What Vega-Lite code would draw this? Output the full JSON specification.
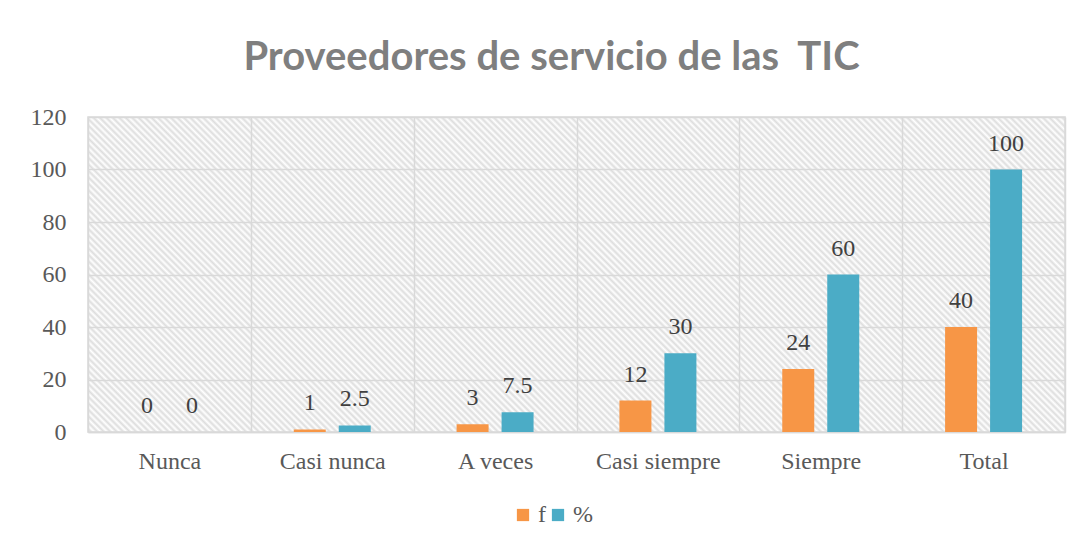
{
  "$schema": "https://vega.github.io/schema/vega-lite/v6.json",
  "width": 977,
  "height": 315,
  "autosize": {"type": "none"},
  "padding": {"left": 88, "top": 117, "right": 17, "bottom": 112},
  "background": "#ffffff",
  "title": {
    "text": "Proveedores de servicio de las \u00a0TIC",
    "font": "Lato",
    "fontWeight": "bold",
    "fontSize": 40,
    "color": "#7f7f7f",
    "anchor": "middle",
    "frame": "group",
    "baseline": "alphabetic",
    "offset": 48,
    "dy": 53,
    "dx": -25
  },
  "view": {
    "stroke": "#d9d9d9",
    "strokeWidth": 1.5,
    "fill": {
      "gradient": "linear",
      "x1": 0, "y1": 1, "x2": 1.1979, "y2": 0.6138,
      "stops": [
{"offset":0,"color":"#fff"},{"offset":0.0025,"color":"#ddd"},{"offset":0.005,"color":"#fff"},{"offset":0.0075,"color":"#ddd"},
{"offset":0.01,"color":"#fff"},{"offset":0.0125,"color":"#ddd"},{"offset":0.015,"color":"#fff"},{"offset":0.0175,"color":"#ddd"},
{"offset":0.02,"color":"#fff"},{"offset":0.0225,"color":"#ddd"},{"offset":0.025,"color":"#fff"},{"offset":0.0275,"color":"#ddd"},
{"offset":0.03,"color":"#fff"},{"offset":0.0325,"color":"#ddd"},{"offset":0.035,"color":"#fff"},{"offset":0.0375,"color":"#ddd"},
{"offset":0.04,"color":"#fff"},{"offset":0.0425,"color":"#ddd"},{"offset":0.045,"color":"#fff"},{"offset":0.0475,"color":"#ddd"},
{"offset":0.05,"color":"#fff"},{"offset":0.0525,"color":"#ddd"},{"offset":0.055,"color":"#fff"},{"offset":0.0575,"color":"#ddd"},
{"offset":0.06,"color":"#fff"},{"offset":0.0625,"color":"#ddd"},{"offset":0.065,"color":"#fff"},{"offset":0.0675,"color":"#ddd"},
{"offset":0.07,"color":"#fff"},{"offset":0.0725,"color":"#ddd"},{"offset":0.075,"color":"#fff"},{"offset":0.0775,"color":"#ddd"},
{"offset":0.08,"color":"#fff"},{"offset":0.0825,"color":"#ddd"},{"offset":0.085,"color":"#fff"},{"offset":0.0875,"color":"#ddd"},
{"offset":0.09,"color":"#fff"},{"offset":0.0925,"color":"#ddd"},{"offset":0.095,"color":"#fff"},{"offset":0.0975,"color":"#ddd"},
{"offset":0.1,"color":"#fff"},{"offset":0.1025,"color":"#ddd"},{"offset":0.105,"color":"#fff"},{"offset":0.1075,"color":"#ddd"},
{"offset":0.11,"color":"#fff"},{"offset":0.1125,"color":"#ddd"},{"offset":0.115,"color":"#fff"},{"offset":0.1175,"color":"#ddd"},
{"offset":0.12,"color":"#fff"},{"offset":0.1225,"color":"#ddd"},{"offset":0.125,"color":"#fff"},{"offset":0.1275,"color":"#ddd"},
{"offset":0.13,"color":"#fff"},{"offset":0.1325,"color":"#ddd"},{"offset":0.135,"color":"#fff"},{"offset":0.1375,"color":"#ddd"},
{"offset":0.14,"color":"#fff"},{"offset":0.1425,"color":"#ddd"},{"offset":0.145,"color":"#fff"},{"offset":0.1475,"color":"#ddd"},
{"offset":0.15,"color":"#fff"},{"offset":0.1525,"color":"#ddd"},{"offset":0.155,"color":"#fff"},{"offset":0.1575,"color":"#ddd"},
{"offset":0.16,"color":"#fff"},{"offset":0.1625,"color":"#ddd"},{"offset":0.165,"color":"#fff"},{"offset":0.1675,"color":"#ddd"},
{"offset":0.17,"color":"#fff"},{"offset":0.1725,"color":"#ddd"},{"offset":0.175,"color":"#fff"},{"offset":0.1775,"color":"#ddd"},
{"offset":0.18,"color":"#fff"},{"offset":0.1825,"color":"#ddd"},{"offset":0.185,"color":"#fff"},{"offset":0.1875,"color":"#ddd"},
{"offset":0.19,"color":"#fff"},{"offset":0.1925,"color":"#ddd"},{"offset":0.195,"color":"#fff"},{"offset":0.1975,"color":"#ddd"},
{"offset":0.2,"color":"#fff"},{"offset":0.2025,"color":"#ddd"},{"offset":0.205,"color":"#fff"},{"offset":0.2075,"color":"#ddd"},
{"offset":0.21,"color":"#fff"},{"offset":0.2125,"color":"#ddd"},{"offset":0.215,"color":"#fff"},{"offset":0.2175,"color":"#ddd"},
{"offset":0.22,"color":"#fff"},{"offset":0.2225,"color":"#ddd"},{"offset":0.225,"color":"#fff"},{"offset":0.2275,"color":"#ddd"},
{"offset":0.23,"color":"#fff"},{"offset":0.2325,"color":"#ddd"},{"offset":0.235,"color":"#fff"},{"offset":0.2375,"color":"#ddd"},
{"offset":0.24,"color":"#fff"},{"offset":0.2425,"color":"#ddd"},{"offset":0.245,"color":"#fff"},{"offset":0.2475,"color":"#ddd"},
{"offset":0.25,"color":"#fff"},{"offset":0.2525,"color":"#ddd"},{"offset":0.255,"color":"#fff"},{"offset":0.2575,"color":"#ddd"},
{"offset":0.26,"color":"#fff"},{"offset":0.2625,"color":"#ddd"},{"offset":0.265,"color":"#fff"},{"offset":0.2675,"color":"#ddd"},
{"offset":0.27,"color":"#fff"},{"offset":0.2725,"color":"#ddd"},{"offset":0.275,"color":"#fff"},{"offset":0.2775,"color":"#ddd"},
{"offset":0.28,"color":"#fff"},{"offset":0.2825,"color":"#ddd"},{"offset":0.285,"color":"#fff"},{"offset":0.2875,"color":"#ddd"},
{"offset":0.29,"color":"#fff"},{"offset":0.2925,"color":"#ddd"},{"offset":0.295,"color":"#fff"},{"offset":0.2975,"color":"#ddd"},
{"offset":0.3,"color":"#fff"},{"offset":0.3025,"color":"#ddd"},{"offset":0.305,"color":"#fff"},{"offset":0.3075,"color":"#ddd"},
{"offset":0.31,"color":"#fff"},{"offset":0.3125,"color":"#ddd"},{"offset":0.315,"color":"#fff"},{"offset":0.3175,"color":"#ddd"},
{"offset":0.32,"color":"#fff"},{"offset":0.3225,"color":"#ddd"},{"offset":0.325,"color":"#fff"},{"offset":0.3275,"color":"#ddd"},
{"offset":0.33,"color":"#fff"},{"offset":0.3325,"color":"#ddd"},{"offset":0.335,"color":"#fff"},{"offset":0.3375,"color":"#ddd"},
{"offset":0.34,"color":"#fff"},{"offset":0.3425,"color":"#ddd"},{"offset":0.345,"color":"#fff"},{"offset":0.3475,"color":"#ddd"},
{"offset":0.35,"color":"#fff"},{"offset":0.3525,"color":"#ddd"},{"offset":0.355,"color":"#fff"},{"offset":0.3575,"color":"#ddd"},
{"offset":0.36,"color":"#fff"},{"offset":0.3625,"color":"#ddd"},{"offset":0.365,"color":"#fff"},{"offset":0.3675,"color":"#ddd"},
{"offset":0.37,"color":"#fff"},{"offset":0.3725,"color":"#ddd"},{"offset":0.375,"color":"#fff"},{"offset":0.3775,"color":"#ddd"},
{"offset":0.38,"color":"#fff"},{"offset":0.3825,"color":"#ddd"},{"offset":0.385,"color":"#fff"},{"offset":0.3875,"color":"#ddd"},
{"offset":0.39,"color":"#fff"},{"offset":0.3925,"color":"#ddd"},{"offset":0.395,"color":"#fff"},{"offset":0.3975,"color":"#ddd"},
{"offset":0.4,"color":"#fff"},{"offset":0.4025,"color":"#ddd"},{"offset":0.405,"color":"#fff"},{"offset":0.4075,"color":"#ddd"},
{"offset":0.41,"color":"#fff"},{"offset":0.4125,"color":"#ddd"},{"offset":0.415,"color":"#fff"},{"offset":0.4175,"color":"#ddd"},
{"offset":0.42,"color":"#fff"},{"offset":0.4225,"color":"#ddd"},{"offset":0.425,"color":"#fff"},{"offset":0.4275,"color":"#ddd"},
{"offset":0.43,"color":"#fff"},{"offset":0.4325,"color":"#ddd"},{"offset":0.435,"color":"#fff"},{"offset":0.4375,"color":"#ddd"},
{"offset":0.44,"color":"#fff"},{"offset":0.4425,"color":"#ddd"},{"offset":0.445,"color":"#fff"},{"offset":0.4475,"color":"#ddd"},
{"offset":0.45,"color":"#fff"},{"offset":0.4525,"color":"#ddd"},{"offset":0.455,"color":"#fff"},{"offset":0.4575,"color":"#ddd"},
{"offset":0.46,"color":"#fff"},{"offset":0.4625,"color":"#ddd"},{"offset":0.465,"color":"#fff"},{"offset":0.4675,"color":"#ddd"},
{"offset":0.47,"color":"#fff"},{"offset":0.4725,"color":"#ddd"},{"offset":0.475,"color":"#fff"},{"offset":0.4775,"color":"#ddd"},
{"offset":0.48,"color":"#fff"},{"offset":0.4825,"color":"#ddd"},{"offset":0.485,"color":"#fff"},{"offset":0.4875,"color":"#ddd"},
{"offset":0.49,"color":"#fff"},{"offset":0.4925,"color":"#ddd"},{"offset":0.495,"color":"#fff"},{"offset":0.4975,"color":"#ddd"},
{"offset":0.5,"color":"#fff"},{"offset":0.5025,"color":"#ddd"},{"offset":0.505,"color":"#fff"},{"offset":0.5075,"color":"#ddd"},
{"offset":0.51,"color":"#fff"},{"offset":0.5125,"color":"#ddd"},{"offset":0.515,"color":"#fff"},{"offset":0.5175,"color":"#ddd"},
{"offset":0.52,"color":"#fff"},{"offset":0.5225,"color":"#ddd"},{"offset":0.525,"color":"#fff"},{"offset":0.5275,"color":"#ddd"},
{"offset":0.53,"color":"#fff"},{"offset":0.5325,"color":"#ddd"},{"offset":0.535,"color":"#fff"},{"offset":0.5375,"color":"#ddd"},
{"offset":0.54,"color":"#fff"},{"offset":0.5425,"color":"#ddd"},{"offset":0.545,"color":"#fff"},{"offset":0.5475,"color":"#ddd"},
{"offset":0.55,"color":"#fff"},{"offset":0.5525,"color":"#ddd"},{"offset":0.555,"color":"#fff"},{"offset":0.5575,"color":"#ddd"},
{"offset":0.56,"color":"#fff"},{"offset":0.5625,"color":"#ddd"},{"offset":0.565,"color":"#fff"},{"offset":0.5675,"color":"#ddd"},
{"offset":0.57,"color":"#fff"},{"offset":0.5725,"color":"#ddd"},{"offset":0.575,"color":"#fff"},{"offset":0.5775,"color":"#ddd"},
{"offset":0.58,"color":"#fff"},{"offset":0.5825,"color":"#ddd"},{"offset":0.585,"color":"#fff"},{"offset":0.5875,"color":"#ddd"},
{"offset":0.59,"color":"#fff"},{"offset":0.5925,"color":"#ddd"},{"offset":0.595,"color":"#fff"},{"offset":0.5975,"color":"#ddd"},
{"offset":0.6,"color":"#fff"},{"offset":0.6025,"color":"#ddd"},{"offset":0.605,"color":"#fff"},{"offset":0.6075,"color":"#ddd"},
{"offset":0.61,"color":"#fff"},{"offset":0.6125,"color":"#ddd"},{"offset":0.615,"color":"#fff"},{"offset":0.6175,"color":"#ddd"},
{"offset":0.62,"color":"#fff"},{"offset":0.6225,"color":"#ddd"},{"offset":0.625,"color":"#fff"},{"offset":0.6275,"color":"#ddd"},
{"offset":0.63,"color":"#fff"},{"offset":0.6325,"color":"#ddd"},{"offset":0.635,"color":"#fff"},{"offset":0.6375,"color":"#ddd"},
{"offset":0.64,"color":"#fff"},{"offset":0.6425,"color":"#ddd"},{"offset":0.645,"color":"#fff"},{"offset":0.6475,"color":"#ddd"},
{"offset":0.65,"color":"#fff"},{"offset":0.6525,"color":"#ddd"},{"offset":0.655,"color":"#fff"},{"offset":0.6575,"color":"#ddd"},
{"offset":0.66,"color":"#fff"},{"offset":0.6625,"color":"#ddd"},{"offset":0.665,"color":"#fff"},{"offset":0.6675,"color":"#ddd"},
{"offset":0.67,"color":"#fff"},{"offset":0.6725,"color":"#ddd"},{"offset":0.675,"color":"#fff"},{"offset":0.6775,"color":"#ddd"},
{"offset":0.68,"color":"#fff"},{"offset":0.6825,"color":"#ddd"},{"offset":0.685,"color":"#fff"},{"offset":0.6875,"color":"#ddd"},
{"offset":0.69,"color":"#fff"},{"offset":0.6925,"color":"#ddd"},{"offset":0.695,"color":"#fff"},{"offset":0.6975,"color":"#ddd"},
{"offset":0.7,"color":"#fff"},{"offset":0.7025,"color":"#ddd"},{"offset":0.705,"color":"#fff"},{"offset":0.7075,"color":"#ddd"},
{"offset":0.71,"color":"#fff"},{"offset":0.7125,"color":"#ddd"},{"offset":0.715,"color":"#fff"},{"offset":0.7175,"color":"#ddd"},
{"offset":0.72,"color":"#fff"},{"offset":0.7225,"color":"#ddd"},{"offset":0.725,"color":"#fff"},{"offset":0.7275,"color":"#ddd"},
{"offset":0.73,"color":"#fff"},{"offset":0.7325,"color":"#ddd"},{"offset":0.735,"color":"#fff"},{"offset":0.7375,"color":"#ddd"},
{"offset":0.74,"color":"#fff"},{"offset":0.7425,"color":"#ddd"},{"offset":0.745,"color":"#fff"},{"offset":0.7475,"color":"#ddd"},
{"offset":0.75,"color":"#fff"},{"offset":0.7525,"color":"#ddd"},{"offset":0.755,"color":"#fff"},{"offset":0.7575,"color":"#ddd"},
{"offset":0.76,"color":"#fff"},{"offset":0.7625,"color":"#ddd"},{"offset":0.765,"color":"#fff"},{"offset":0.7675,"color":"#ddd"},
{"offset":0.77,"color":"#fff"},{"offset":0.7725,"color":"#ddd"},{"offset":0.775,"color":"#fff"},{"offset":0.7775,"color":"#ddd"},
{"offset":0.78,"color":"#fff"},{"offset":0.7825,"color":"#ddd"},{"offset":0.785,"color":"#fff"},{"offset":0.7875,"color":"#ddd"},
{"offset":0.79,"color":"#fff"},{"offset":0.7925,"color":"#ddd"},{"offset":0.795,"color":"#fff"},{"offset":0.7975,"color":"#ddd"},
{"offset":0.8,"color":"#fff"},{"offset":0.8025,"color":"#ddd"},{"offset":0.805,"color":"#fff"},{"offset":0.8075,"color":"#ddd"},
{"offset":0.81,"color":"#fff"},{"offset":0.8125,"color":"#ddd"},{"offset":0.815,"color":"#fff"},{"offset":0.8175,"color":"#ddd"},
{"offset":0.82,"color":"#fff"},{"offset":0.8225,"color":"#ddd"},{"offset":0.825,"color":"#fff"},{"offset":0.8275,"color":"#ddd"},
{"offset":0.83,"color":"#fff"},{"offset":0.8325,"color":"#ddd"},{"offset":0.835,"color":"#fff"},{"offset":0.8375,"color":"#ddd"},
{"offset":0.84,"color":"#fff"},{"offset":0.8425,"color":"#ddd"},{"offset":0.845,"color":"#fff"},{"offset":0.8475,"color":"#ddd"},
{"offset":0.85,"color":"#fff"},{"offset":0.8525,"color":"#ddd"},{"offset":0.855,"color":"#fff"},{"offset":0.8575,"color":"#ddd"},
{"offset":0.86,"color":"#fff"},{"offset":0.8625,"color":"#ddd"},{"offset":0.865,"color":"#fff"},{"offset":0.8675,"color":"#ddd"},
{"offset":0.87,"color":"#fff"},{"offset":0.8725,"color":"#ddd"},{"offset":0.875,"color":"#fff"},{"offset":0.8775,"color":"#ddd"},
{"offset":0.88,"color":"#fff"},{"offset":0.8825,"color":"#ddd"},{"offset":0.885,"color":"#fff"},{"offset":0.8875,"color":"#ddd"},
{"offset":0.89,"color":"#fff"},{"offset":0.8925,"color":"#ddd"},{"offset":0.895,"color":"#fff"},{"offset":0.8975,"color":"#ddd"},
{"offset":0.9,"color":"#fff"},{"offset":0.9025,"color":"#ddd"},{"offset":0.905,"color":"#fff"},{"offset":0.9075,"color":"#ddd"},
{"offset":0.91,"color":"#fff"},{"offset":0.9125,"color":"#ddd"},{"offset":0.915,"color":"#fff"},{"offset":0.9175,"color":"#ddd"},
{"offset":0.92,"color":"#fff"},{"offset":0.9225,"color":"#ddd"},{"offset":0.925,"color":"#fff"},{"offset":0.9275,"color":"#ddd"},
{"offset":0.93,"color":"#fff"},{"offset":0.9325,"color":"#ddd"},{"offset":0.935,"color":"#fff"},{"offset":0.9375,"color":"#ddd"},
{"offset":0.94,"color":"#fff"},{"offset":0.9425,"color":"#ddd"},{"offset":0.945,"color":"#fff"},{"offset":0.9475,"color":"#ddd"},
{"offset":0.95,"color":"#fff"},{"offset":0.9525,"color":"#ddd"},{"offset":0.955,"color":"#fff"},{"offset":0.9575,"color":"#ddd"},
{"offset":0.96,"color":"#fff"},{"offset":0.9625,"color":"#ddd"},{"offset":0.965,"color":"#fff"},{"offset":0.9675,"color":"#ddd"},
{"offset":0.97,"color":"#fff"},{"offset":0.9725,"color":"#ddd"},{"offset":0.975,"color":"#fff"},{"offset":0.9775,"color":"#ddd"},
{"offset":0.98,"color":"#fff"},{"offset":0.9825,"color":"#ddd"},{"offset":0.985,"color":"#fff"},{"offset":0.9875,"color":"#ddd"},
{"offset":0.99,"color":"#fff"},{"offset":0.9925,"color":"#ddd"},{"offset":0.995,"color":"#fff"},{"offset":0.9975,"color":"#ddd"},
{"offset":1,"color":"#fff"}
      ]
    }
  },
  "data": {
    "values": [
      {"categoria": "Nunca", "serie": "f", "valor": 0},
      {"categoria": "Nunca", "serie": "%", "valor": 0},
      {"categoria": "Casi nunca", "serie": "f", "valor": 1},
      {"categoria": "Casi nunca", "serie": "%", "valor": 2.5},
      {"categoria": "A veces", "serie": "f", "valor": 3},
      {"categoria": "A veces", "serie": "%", "valor": 7.5},
      {"categoria": "Casi siempre", "serie": "f", "valor": 12},
      {"categoria": "Casi siempre", "serie": "%", "valor": 30},
      {"categoria": "Siempre", "serie": "f", "valor": 24},
      {"categoria": "Siempre", "serie": "%", "valor": 60},
      {"categoria": "Total", "serie": "f", "valor": 40},
      {"categoria": "Total", "serie": "%", "valor": 100}
    ]
  },
  "encoding": {
    "x": {
      "field": "categoria",
      "type": "nominal",
      "sort": ["Nunca", "Casi nunca", "A veces", "Casi siempre", "Siempre", "Total"],
      "scale": {"paddingInner": 0, "paddingOuter": 0},
      "axis": {
        "title": null,
        "labelAngle": 0,
        "labelFont": "Liberation Serif",
        "labelFontSize": 24,
        "labelColor": "#595959",
        "labelPadding": 17,
        "ticks": false,
        "domain": true,
        "domainColor": "#d9d9d9",
        "domainWidth": 1.5,
        "grid": true,
        "tickBand": "extent",
        "gridColor": "#d9d9d9",
        "gridWidth": 1.5
      }
    },
    "xOffset": {
      "field": "serie",
      "type": "nominal",
      "sort": ["f", "%"],
      "scale": {"paddingInner": 0.289, "paddingOuter": 0.954}
    },
    "y": {
      "field": "valor",
      "type": "quantitative",
      "scale": {"domain": [0, 120], "nice": false},
      "axis": {
        "title": null,
        "values": [0, 20, 40, 60, 80, 100, 120],
        "labelFont": "Liberation Serif",
        "labelFontSize": 24,
        "labelColor": "#595959",
        "labelPadding": 22,
        "ticks": false,
        "domain": false,
        "grid": true,
        "gridColor": "#d9d9d9",
        "gridWidth": 1.5
      }
    }
  },
  "layer": [
    {
      "mark": {"type": "bar"},
      "encoding": {
        "color": {
          "field": "serie",
          "type": "nominal",
          "scale": {"domain": ["f", "%"], "range": ["#F79646", "#4BACC6"]},
          "legend": {
            "title": null,
            "orient": "none",
            "legendX": 423,
            "legendY": 386,
            "direction": "horizontal",
            "symbolType": "square",
            "symbolSize": 150,
            "symbolStrokeWidth": 0,
            "symbolOpacity": 1,
            "labelFont": "Liberation Serif",
            "labelFontSize": 24,
            "labelColor": "#595959",
            "labelOffset": 3,
            "columnPadding": 0,
            "padding": 0
          }
        }
      }
    },
    {
      "mark": {
        "type": "text",
        "baseline": "middle",
        "dy": -26,
        "font": "Liberation Serif",
        "fontSize": 24,
        "color": "#404040"
      },
      "encoding": {
        "text": {"field": "valor", "type": "quantitative"}
      }
    }
  ]
}
